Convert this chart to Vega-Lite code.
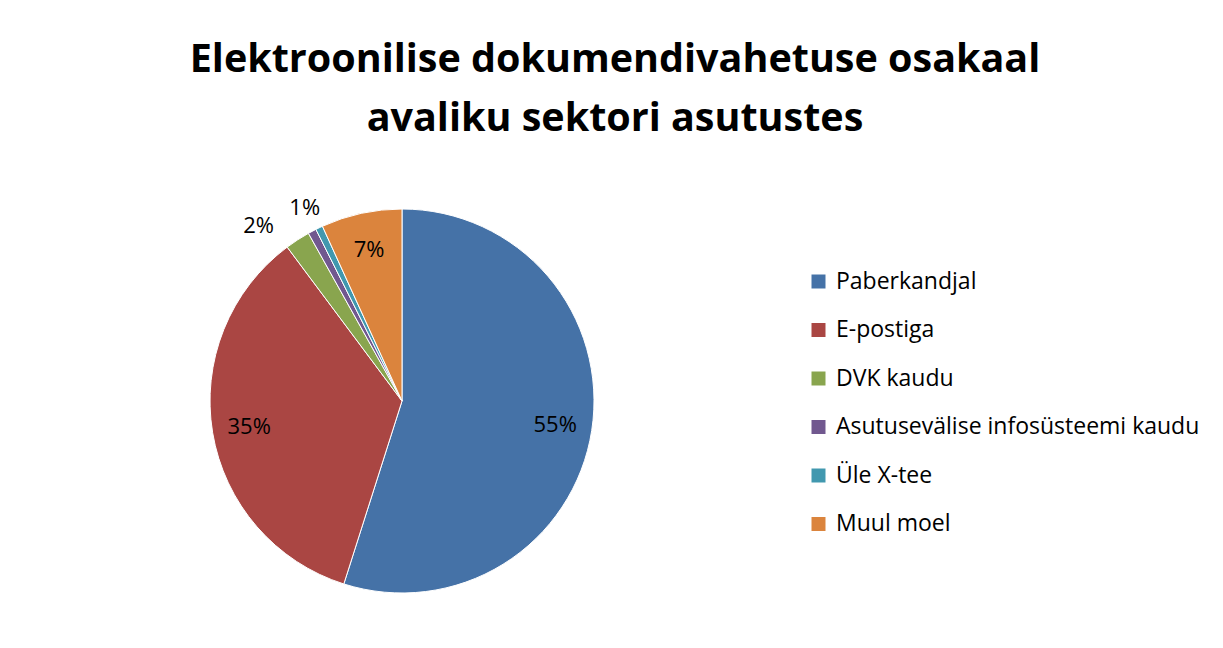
{
  "$schema": "https://vega.github.io/schema/vega-lite/v6.json",
  "width": 804,
  "height": 400,
  "autosize": {"type": "none"},
  "padding": {"left": 0, "top": 201, "right": 419, "bottom": 47},
  "background": "white",
  "title": {
    "text": ["Elektroonilise dokumendivahetuse osakaal", "avaliku sektori asutustes"],
    "font": "Open Sans",
    "fontSize": 39.5,
    "fontWeight": "bold",
    "color": "black",
    "anchor": "middle",
    "frame": "group",
    "dx": 213,
    "offset": 37,
    "lineHeight": 59
  },
  "data": {
    "values": [
      {"n": 1, "kanal": "Paberkandjal", "v": 0.549},
      {"n": 2, "kanal": "E-postiga", "v": 0.349},
      {"n": 3, "kanal": "DVK kaudu", "v": 0.021},
      {"n": 4, "kanal": "Asutusevälise infosüsteemi kaudu", "v": 0.007},
      {"n": 5, "kanal": "Üle X-tee", "v": 0.006},
      {"n": 6, "kanal": "Muul moel", "v": 0.068}
    ]
  },
  "encoding": {
    "theta": {"field": "v", "type": "quantitative", "stack": true},
    "order": {"field": "n", "type": "quantitative"},
    "color": {
      "field": "kanal",
      "type": "nominal",
      "sort": ["Paberkandjal", "E-postiga", "DVK kaudu", "Asutusevälise infosüsteemi kaudu", "Üle X-tee", "Muul moel"],
      "scale": {
        "domain": ["Paberkandjal", "E-postiga", "DVK kaudu", "Asutusevälise infosüsteemi kaudu", "Üle X-tee", "Muul moel"],
        "range": ["#4572A7", "#AA4643", "#89A54E", "#71588F", "#4198AF", "#DB843D"]
      },
      "legend": {
        "orient": "none",
        "legendX": 807,
        "legendY": 69,
        "title": null,
        "symbolType": "square",
        "symbolSize": 196,
        "symbolStrokeWidth": 0,
        "labelFont": "Open Sans",
        "labelFontSize": 23,
        "labelColor": "black",
        "labelOffset": 6,
        "rowPadding": 24.5,
        "labelLimit": 420
      }
    }
  },
  "layer": [
    {"mark": {"type": "arc", "radius": 192, "stroke": "white", "strokeWidth": 1}},
    {
      "mark": {"type": "text", "radius": 155, "font": "Open Sans", "fontSize": 22},
      "encoding": {
        "text": {"condition": {"test": "datum.v < 0.05", "value": ""}, "field": "v", "type": "quantitative", "format": ".0%"},
        "color": {"value": "black"}
      }
    },
    {
      "mark": {"type": "text", "radius": 225, "dx": -21, "dy": 14, "font": "Open Sans", "fontSize": 22},
      "encoding": {
        "text": {"condition": {"test": "datum.n != 3", "value": ""}, "field": "v", "type": "quantitative", "format": ".0%"},
        "color": {"value": "black"}
      }
    },
    {
      "mark": {"type": "text", "radius": 225, "dx": 8, "dy": 6, "font": "Open Sans", "fontSize": 22},
      "encoding": {
        "text": {"condition": {"test": "datum.n != 4", "value": ""}, "field": "v", "type": "quantitative", "format": ".0%"},
        "color": {"value": "black"}
      }
    }
  ],
  "config": {"view": {"stroke": null}}
}
